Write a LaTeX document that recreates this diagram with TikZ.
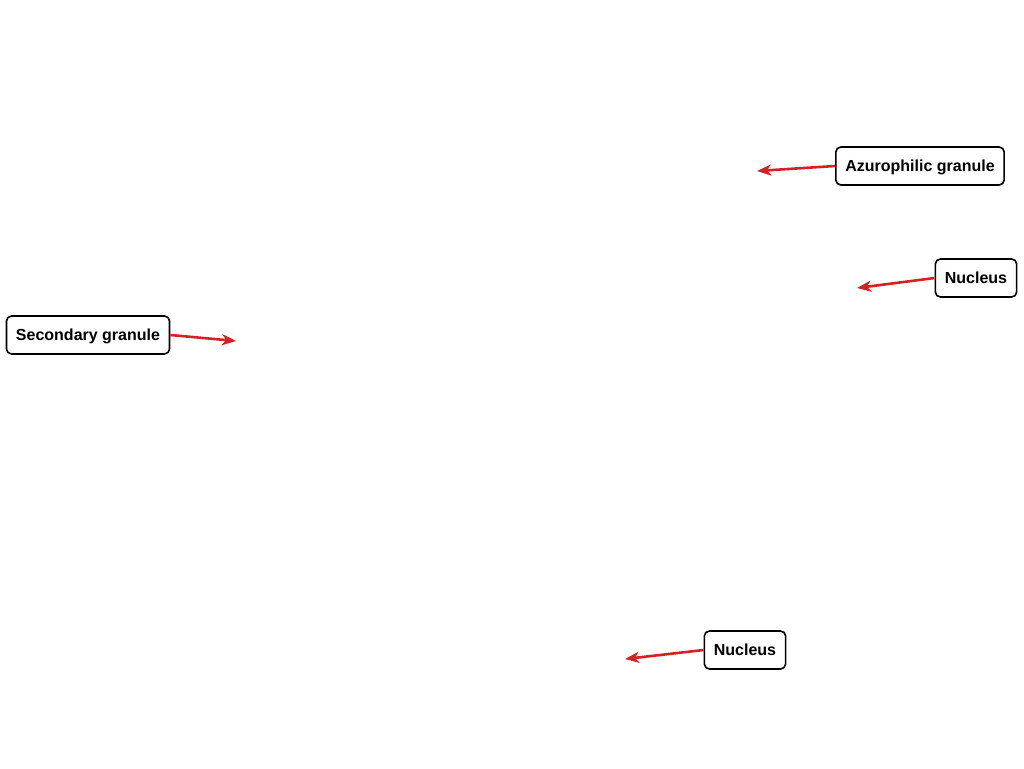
\documentclass[tikz,border=0pt]{standalone}
\usepackage{fontspec}
\setmainfont{Liberation Sans}
\usetikzlibrary{arrows.meta}
\definecolor{pointred}{RGB}{214,32,36}

\begin{document}
\begin{tikzpicture}[
            x=1pt, y=-1pt,
            note/.style={draw, rounded corners=5pt, line width=1.6pt,
                minimum height=38pt, inner xsep=9.5pt,
                text height=11.5pt, text depth=0.5pt,
                font=\fontsize{16}{19}\selectfont\bfseries},
            pointer/.style={draw=pointred, line width=2.6pt,
                -{Stealth[length=14pt, width=11pt, inset=4pt]}}
        ]
        \useasboundingbox (0, 0) rectangle (1024, 768);
        \node[note] (azuro)  at (920, 166) {Azurophilic granule};
        \node[note] (nuctop) at (976, 278) {Nucleus};
        \node[note] (second) at (88, 335)  {Secondary granule};
        \node[note] (nucbot) at (745, 650) {Nucleus};
        \coordinate (azurotip)  at (757, 171);
        \coordinate (nuctoptip) at (857, 288);
        \coordinate (secondtip) at (236, 341);
        \coordinate (nucbottip) at (625, 659);
        \draw[pointer] (azuro.west)  -- (azurotip);
        \draw[pointer] (nuctop.west) -- (nuctoptip);
        \draw[pointer] (second.east) -- (secondtip);
        \draw[pointer] (nucbot.west) -- (nucbottip);
    \end{tikzpicture}
\end{document}
